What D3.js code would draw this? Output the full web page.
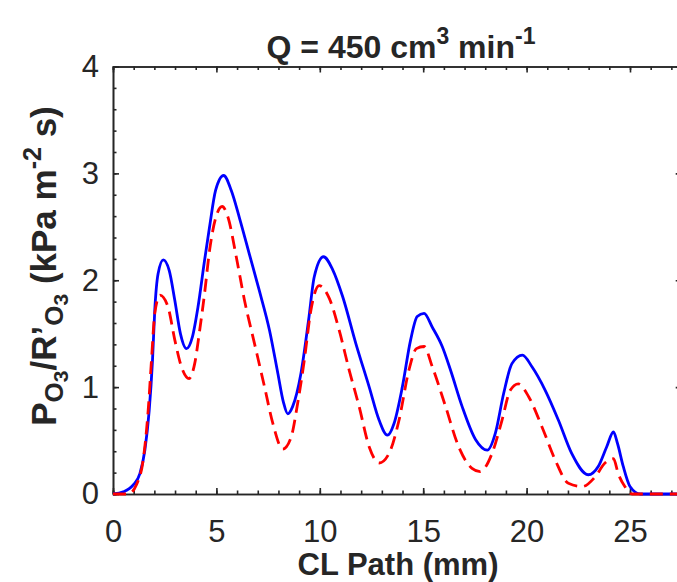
<!DOCTYPE html>
<html>
<head>
<meta charset="utf-8">
<script src="https://cdn.jsdelivr.net/npm/d3@7"></script>
<style>
  body { margin: 0; background: #fff; }
  text { font-family: "Liberation Sans", Arial, sans-serif; fill: #262626; }
</style>
</head>
<body>
<div id="vis"></div>
<script>
// data
const xBlue = [0, 0.5, 0.98, 1.3, 1.54, 1.75, 1.91, 2.02, 2.18, 2.43,
  2.72, 2.99, 3.26, 3.55, 3.84, 4.11, 4.43, 4.67, 4.96, 5.35,
  5.72, 6.12, 6.6, 7.08, 7.57, 7.97, 8.24, 8.45, 8.69, 9.09,
  9.46, 9.73, 10.18, 10.62, 11.1, 11.74, 12.39, 12.87, 13.27, 13.59,
  13.99, 14.39, 14.71, 15.04, 15.44, 15.92, 16.32, 16.88, 17.53, 18.1,
  18.49, 18.89, 19.29, 19.8, 20.26, 20.9, 21.54, 22.18, 22.98, 23.47,
  23.87, 24.2, 24.4, 24.67, 25.0, 25.5, 26.5, 27.5];
const yBlue = [0, 0.02, 0.085, 0.19, 0.41, 0.78, 1.25, 1.72, 2.06, 2.19,
  2.09, 1.81, 1.50, 1.36, 1.47, 1.75, 2.19, 2.50, 2.84, 2.98,
  2.84, 2.58, 2.24, 1.90, 1.53, 1.13, 0.86, 0.75, 0.82, 1.13,
  1.63, 2.03, 2.22, 2.1, 1.85, 1.41, 1.0, 0.69, 0.55, 0.66,
  1.0, 1.44, 1.66, 1.69, 1.56, 1.38, 1.16, 0.82, 0.51, 0.41,
  0.57, 0.94, 1.22, 1.30, 1.19, 0.97, 0.69, 0.38, 0.18, 0.26,
  0.44, 0.58, 0.47, 0.26, 0.07, 0, 0, 0];

const xRed = [0, 0.74, 1.14, 1.46, 1.7, 1.86, 2.02, 2.27, 2.66, 2.99,
  3.31, 3.68, 3.95, 4.19, 4.43, 4.67, 4.96, 5.28, 5.56, 5.96,
  6.36, 6.84, 7.33, 7.73, 8.21, 8.61, 8.93, 9.25, 9.57, 9.97,
  10.46, 10.94, 11.42, 11.9, 12.39, 12.87, 13.35, 13.83, 14.31, 14.67,
  15.04, 15.44, 16.08, 16.72, 17.36, 17.75, 18.33, 18.81, 19.21, 19.6,
  20.1, 20.74, 21.38, 22.02, 22.7, 23.31, 23.79, 24.2, 24.43, 24.75,
  25.1, 26, 27.5];
const yRed = [0, 0, 0.09, 0.32, 0.78, 1.25, 1.69, 1.86, 1.75, 1.44,
  1.19, 1.08, 1.22, 1.53, 1.88, 2.28, 2.58, 2.69, 2.59, 2.22,
  1.81, 1.41, 1.0, 0.66, 0.42, 0.53, 0.85, 1.25, 1.72, 1.95,
  1.83, 1.53, 1.16, 0.82, 0.44, 0.29, 0.38, 0.69, 1.16, 1.36,
  1.38, 1.19, 0.82, 0.44, 0.24, 0.21, 0.38, 0.69, 0.97, 1.03,
  0.91, 0.63, 0.32, 0.10, 0.07, 0.16, 0.29, 0.33, 0.19, 0.07,
  0, 0, 0];

const xTicks = [0, 5, 10, 15, 20, 25];
const yTicks = [0, 1, 2, 3, 4];

const WIDTH = 677, HEIGHT = 582;
const LEFT = 113, RIGHT = 681.7, TOP = 66.5, BOTTOM = 494;
const AXIS_COLOR = "#262626";

const svg = d3.select("#vis").append("svg")
  .attr("width", WIDTH).attr("height", HEIGHT);

const X = d3.scaleLinear().domain([0, 27.5]).range([LEFT, RIGHT]);
const Y = d3.scaleLinear().domain([0, 4]).range([BOTTOM, TOP]);

function styleAxis(g) {
  g.selectAll("path, line").attr("stroke", AXIS_COLOR).attr("stroke-width", 1.6);
  g.selectAll("text").attr("fill", AXIS_COLOR)
    .style("font-size", "31px").style("font-family", "'Liberation Sans', Arial, sans-serif");
}

const xMinor = d3.range(0, 28, 1);
const yMinor = d3.range(0, 4.01, 0.2);

// bottom
svg.append("g").attr("transform", `translate(0,${BOTTOM})`)
  .call(d3.axisBottom(X).tickValues(xMinor).tickSize(-3.5).tickFormat(""))
  .call(styleAxis);
svg.append("g").attr("transform", `translate(0,${BOTTOM})`)
  .call(d3.axisBottom(X).tickValues(xTicks).tickSizeInner(-6).tickSizeOuter(0)
    .tickPadding(26).tickFormat(d3.format("d")))
  .call(styleAxis);
// top
svg.append("g").attr("transform", `translate(0,${TOP})`)
  .call(d3.axisTop(X).tickValues(xMinor).tickSize(-3.5).tickFormat(""))
  .call(styleAxis);
svg.append("g").attr("transform", `translate(0,${TOP})`)
  .call(d3.axisTop(X).tickValues(xTicks).tickSizeInner(-6).tickSizeOuter(0).tickFormat(""))
  .call(styleAxis);
// left
svg.append("g").attr("transform", `translate(${LEFT},0)`)
  .call(d3.axisLeft(Y).tickValues(yMinor).tickSize(-3.5).tickFormat(""))
  .call(styleAxis);
svg.append("g").attr("transform", `translate(${LEFT},0)`)
  .call(d3.axisLeft(Y).tickValues(yTicks).tickSizeInner(-6).tickSizeOuter(0)
    .tickPadding(14).tickFormat(d3.format("d")))
  .call(styleAxis);
// right
svg.append("g").attr("transform", `translate(${RIGHT},0)`)
  .call(d3.axisRight(Y).tickValues(yMinor).tickSize(-3.5).tickFormat(""))
  .call(styleAxis);
svg.append("g").attr("transform", `translate(${RIGHT},0)`)
  .call(d3.axisRight(Y).tickValues(yTicks).tickSizeInner(-6).tickSizeOuter(0).tickFormat(""))
  .call(styleAxis);

// lines
const line = d3.line()
  .x((d) => X(d[0]))
  .y((d) => Y(d[1]))
  .curve(d3.curveMonotoneX);

svg.append("path")
  .datum(d3.zip(xBlue, yBlue))
  .attr("d", line)
  .attr("fill", "none")
  .attr("stroke", "#0000ff")
  .attr("stroke-width", 2.8);

svg.append("path")
  .datum(d3.zip(xRed, yRed))
  .attr("d", line)
  .attr("fill", "none")
  .attr("stroke", "#ff0000")
  .attr("stroke-width", 2.8)
  .attr("stroke-dasharray", "13,7");

// title
const title = svg.append("text")
  .attr("x", 401).attr("y", 58)
  .attr("text-anchor", "middle")
  .style("font-weight", "bold").style("font-size", "32px");
title.append("tspan").text("Q = 450 cm");
title.append("tspan").attr("dy", -14).style("font-size", "23px").text("3");
title.append("tspan").attr("dy", 14).text(" min");
title.append("tspan").attr("dy", -14).style("font-size", "23px").text("-1");

// x label
svg.append("text")
  .attr("x", 398).attr("y", 575)
  .attr("text-anchor", "middle")
  .style("font-weight", "bold").style("font-size", "31px")
  .text("CL Path (mm)");

// y label
const ylab = svg.append("text")
  .attr("transform", "translate(56,266) rotate(-90)")
  .attr("text-anchor", "middle")
  .style("font-weight", "bold").style("font-size", "35px");
ylab.append("tspan").text("P");
ylab.append("tspan").attr("dy", 7).style("font-size", "26px").text("O");
ylab.append("tspan").attr("dy", 5).style("font-size", "21px").text("3");
ylab.append("tspan").attr("dy", -12).text("/R’");
ylab.append("tspan").attr("dy", 7).style("font-size", "26px").text("O");
ylab.append("tspan").attr("dy", 5).style("font-size", "21px").text("3");
ylab.append("tspan").attr("dy", -12).text(" (kPa m");
ylab.append("tspan").attr("dy", -15).style("font-size", "25px").text("-2");
ylab.append("tspan").attr("dy", 15).text(" s)");
</script>
</body>
</html>
